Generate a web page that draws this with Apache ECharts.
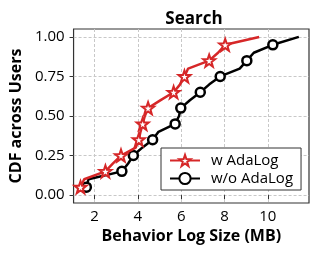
<!DOCTYPE html>
<html>
<head>
<meta charset="utf-8">
<script src="https://cdn.jsdelivr.net/npm/echarts@6/dist/echarts.min.js"></script>
<style>
html,body{margin:0;padding:0;background:#fff;}
#c{width:319px;height:255px;}
</style>
</head>
<body>
<div id="c"></div>
<script>
// CDF levels (shared by both series)
var cdfLevels = [0.05,0.10,0.15,0.20,0.25,0.30,0.35,0.40,0.45,0.50,0.55,0.60,0.65,0.70,0.75,0.80,0.85,0.90,0.95,1.00];
// Behavior log size (MB) with AdaLog
var withAdaLog = [1.35,1.52,2.50,2.85,3.22,3.90,4.04,4.12,4.22,4.32,4.47,5.05,5.65,5.95,6.15,6.32,7.29,7.70,8.03,9.60];
// Behavior log size (MB) without AdaLog
var withoutAdaLog = [1.62,1.72,3.26,3.55,3.79,4.20,4.68,4.95,5.72,5.90,5.98,6.40,6.88,7.30,7.80,8.70,9.03,9.35,10.23,11.43];
var xTicks = [2,4,6,8,10];
var yTicks = [0,0.25,0.5,0.75,1.0];
var seriesNames = ['w AdaLog','w/o AdaLog'];
var titleText = 'Search';
var xName = 'Behavior Log Size (MB)';
var yName = 'CDF across Users';

var RED = '#d62728';
var STAR = 'path://M0,-10 L2.35,-3.24 L9.51,-3.09 L3.80,1.24 L5.88,8.09 L0,4 L-5.88,8.09 L-3.80,1.24 L-9.51,-3.09 L-2.35,-3.24 Z';

function build(xs) {
  return xs.map(function (x, i) {
    var item = { value: [x, cdfLevels[i]] };
    if (i % 2 === 1) item.symbol = 'none';
    return item;
  });
}

var FONT = 'Open Sans';
var chart = echarts.init(document.getElementById('c'), null, { renderer: 'canvas' });
chart.setOption({
  animation: false,
  backgroundColor: '#fff',
  title: {
    text: titleText, left: 189, top: 6, textAlign: 'center',
    textStyle: { fontFamily: FONT, fontWeight: 'bold', fontSize: 17, color: '#000' }
  },
  grid: { left: 69, right: 10, top: 29, bottom: 52, show: true, borderColor: '#333', borderWidth: 1.2, backgroundColor: 'transparent' },
  legend: {
    left: 161, top: 148, orient: 'vertical',
    backgroundColor: '#fff', borderColor: '#333', borderWidth: 1, borderRadius: 0,
    padding: [5, 8, 4, 8], itemGap: 3, itemWidth: 30, itemHeight: 14,
    textStyle: { fontFamily: FONT, fontSize: 15, color: '#000', padding: [0, 0, 0, 6] },
    data: seriesNames
  },
  xAxis: {
    type: 'value', min: 1.03, max: 11.9,
    name: xName, nameLocation: 'middle', nameGap: 21,
    nameTextStyle: { fontFamily: FONT, fontWeight: 'bold', fontSize: 16, color: '#000' },
    axisLine: { show: false },
    axisTick: { show: true, length: 4, lineStyle: { color: '#333' }, customValues: xTicks },
    axisLabel: { fontFamily: FONT, fontSize: 15, color: '#000', margin: 6, customValues: xTicks },
    splitLine: { show: true, lineStyle: { color: '#c8c8c8', type: [3, 2], width: 1 } }
  },
  yAxis: {
    type: 'value', min: -0.05, max: 1.05,
    name: yName, nameLocation: 'middle', nameGap: 42,
    nameTextStyle: { fontFamily: FONT, fontWeight: 'bold', fontSize: 16, color: '#000' },
    axisLine: { show: false },
    axisTick: { show: true, length: 4, lineStyle: { color: '#333' }, customValues: yTicks },
    axisLabel: { fontFamily: FONT, fontSize: 15, color: '#000', margin: 9, customValues: yTicks,
      formatter: function (v) { return v.toFixed(2); } },
    splitLine: { show: true, lineStyle: { color: '#c8c8c8', type: [3, 2], width: 1 } }
  },
  series: [
    {
      name: seriesNames[0], type: 'line', data: build(withAdaLog),
      color: RED, symbol: STAR, symbolSize: 12, showAllSymbol: true,
      lineStyle: { color: RED, width: 2.5 },
      itemStyle: { color: '#fff', borderColor: RED, borderWidth: 2 },
      z: 3
    },
    {
      name: seriesNames[1], type: 'line', data: build(withoutAdaLog),
      color: '#000', symbol: 'circle', symbolSize: 9, showAllSymbol: true,
      lineStyle: { color: '#000', width: 2.5 },
      itemStyle: { color: '#fff', borderColor: '#000', borderWidth: 2.5 },
      z: 2
    }
  ]
});
</script>
</body>
</html>
